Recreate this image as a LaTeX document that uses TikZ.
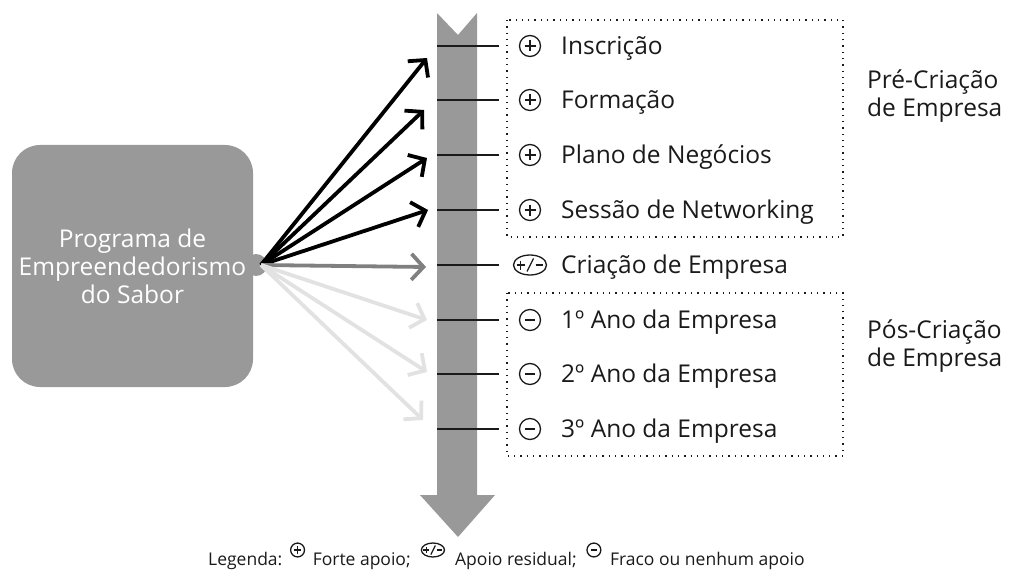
\documentclass[tikz,border=0pt]{standalone}
\usepackage{fontspec}
\setmainfont{Open Sans}
\usetikzlibrary{arrows.meta,positioning}
\definecolor{boxgray}{HTML}{999999}
\definecolor{midgray}{HTML}{808080}
\definecolor{palegray}{HTML}{E2E2E2}
\definecolor{txt}{HTML}{1A1A1A}
\begin{document}
\begin{tikzpicture}[x=1pt,y=-1pt,
    item/.style={anchor=base west,inner sep=0pt,text=txt,font=\fontsize{24.5}{28}\selectfont},
    leg/.style={anchor=base west,inner sep=0pt,text=txt,font=\fontsize{17.5}{20}\selectfont},
    grp/.style={draw=txt,line width=1.3pt,dash pattern=on 1.3pt off 5pt},
    link/.style={line width=3.8pt,-{Straight Barb[length=12pt,width=26pt]}},
    symline/.style={draw=txt,line width=1.3pt}]
    \tikzset{
      pics/plussym/.style={code={
        \draw[symline] (0,0) circle (10.5);
        \draw[symline] (-5.5,0) -- (5.5,0) (0,-5.5) -- (0,5.5);
      }},
      pics/minussym/.style={code={
        \draw[symline] (0,0) circle (10.5);
        \draw[symline] (-5,0) -- (5,0);
      }},
      pics/pmsym/.style={code={
        \draw[symline] (0,0) ellipse (16.5 and 10);
        \draw[symline] (-13.5,0) -- (-5,0) (-9.25,-4.5) -- (-9.25,4.5);
        \draw[symline] (-3,6.5) -- (3.5,-6.5);
        \draw[symline] (5.5,0) -- (12.5,0);
      }}
    }
    \useasboundingbox (0,0) rectangle (1015,583);

    %TIME ARROW
    \fill[boxgray] (437,13) -- (458,35) -- (477,13) -- (477,495) -- (495,495)
      -- (458,537) -- (420,495) -- (437,495) -- cycle;

    %GROUP FRAMES
    \draw[grp] (507,20) rectangle (843,237);
    \draw[grp] (507,293) rectangle (843,456);

    %STAGES
    \foreach \y/\s/\t [count=\i] in {46/plussym/Inscrição,
        100/plussym/Formação,
        155/plussym/Plano de Negócios,
        210/plussym/Sessão de Networking,
        265/pmsym/Criação de Empresa,
        320/minussym/1º Ano da Empresa,
        374/minussym/2º Ano da Empresa,
        429/minussym/3º Ano da Empresa}{
      \draw[txt,line width=1.3pt] (437,\y) -- (499,\y);
      \path (530,\y) pic {\s};
      \node[item] (stage\i) at (561,\y+8.5) {\t};
    }

    \node[item,align=left,anchor=base west] (pre) at (867,117) {Pré-Criação\\de Empresa};
    \node[item,align=left,anchor=base west] (pos) at (867,366) {Pós-Criação\\de Empresa};

    %PROGRAM
    \node[fill=boxgray,rounded corners=28pt,minimum width=241pt,minimum height=242pt,
      text=white,align=center,font=\fontsize{24.5}{28}\selectfont] (prog) at (132.5,266)
      {Programa de\\Empreendedorismo\\do Sabor};
    \node[circle,fill=boxgray,minimum size=22pt,inner sep=0pt] (hub) at (256,265) {};

    \coordinate (t1) at (427,58);
    \coordinate (t2) at (424,110);
    \coordinate (t3) at (427,158);
    \coordinate (t4) at (428,210);
    \coordinate (t5) at (426,267);
    \coordinate (t6) at (427,320);
    \coordinate (t7) at (427,372);
    \coordinate (t8) at (423,420);

    \foreach \t in {t1,t2,t3,t4}
      \draw[link,black] ([xshift=5pt]hub.center) -- (\t);
    \draw[link,midgray] ([xshift=5pt]hub.center) -- (t5);
    \foreach \t in {t6,t7,t8}
      \draw[link,palegray] ([xshift=5pt]hub.center) -- (\t);

    %LEGEND
    \node[leg] (lg1) at (208,565) {Legenda:};
    \path ([xshift=15pt,yshift=15pt]lg1.base east) pic[scale=0.66] {plussym};
    \node[leg,right=30pt of lg1.base east,anchor=base west] (lg2) {Forte apoio;};
    \path ([xshift=22pt,yshift=15pt]lg2.base east) pic[scale=0.7] {pmsym};
    \node[leg,right=44pt of lg2.base east,anchor=base west] (lg3) {Apoio residual;};
    \path ([xshift=17pt,yshift=15pt]lg3.base east) pic[scale=0.66] {minussym};
    \node[leg,right=33pt of lg3.base east,anchor=base west] (lg4) {Fraco ou nenhum apoio};
\end{tikzpicture}
\end{document}
